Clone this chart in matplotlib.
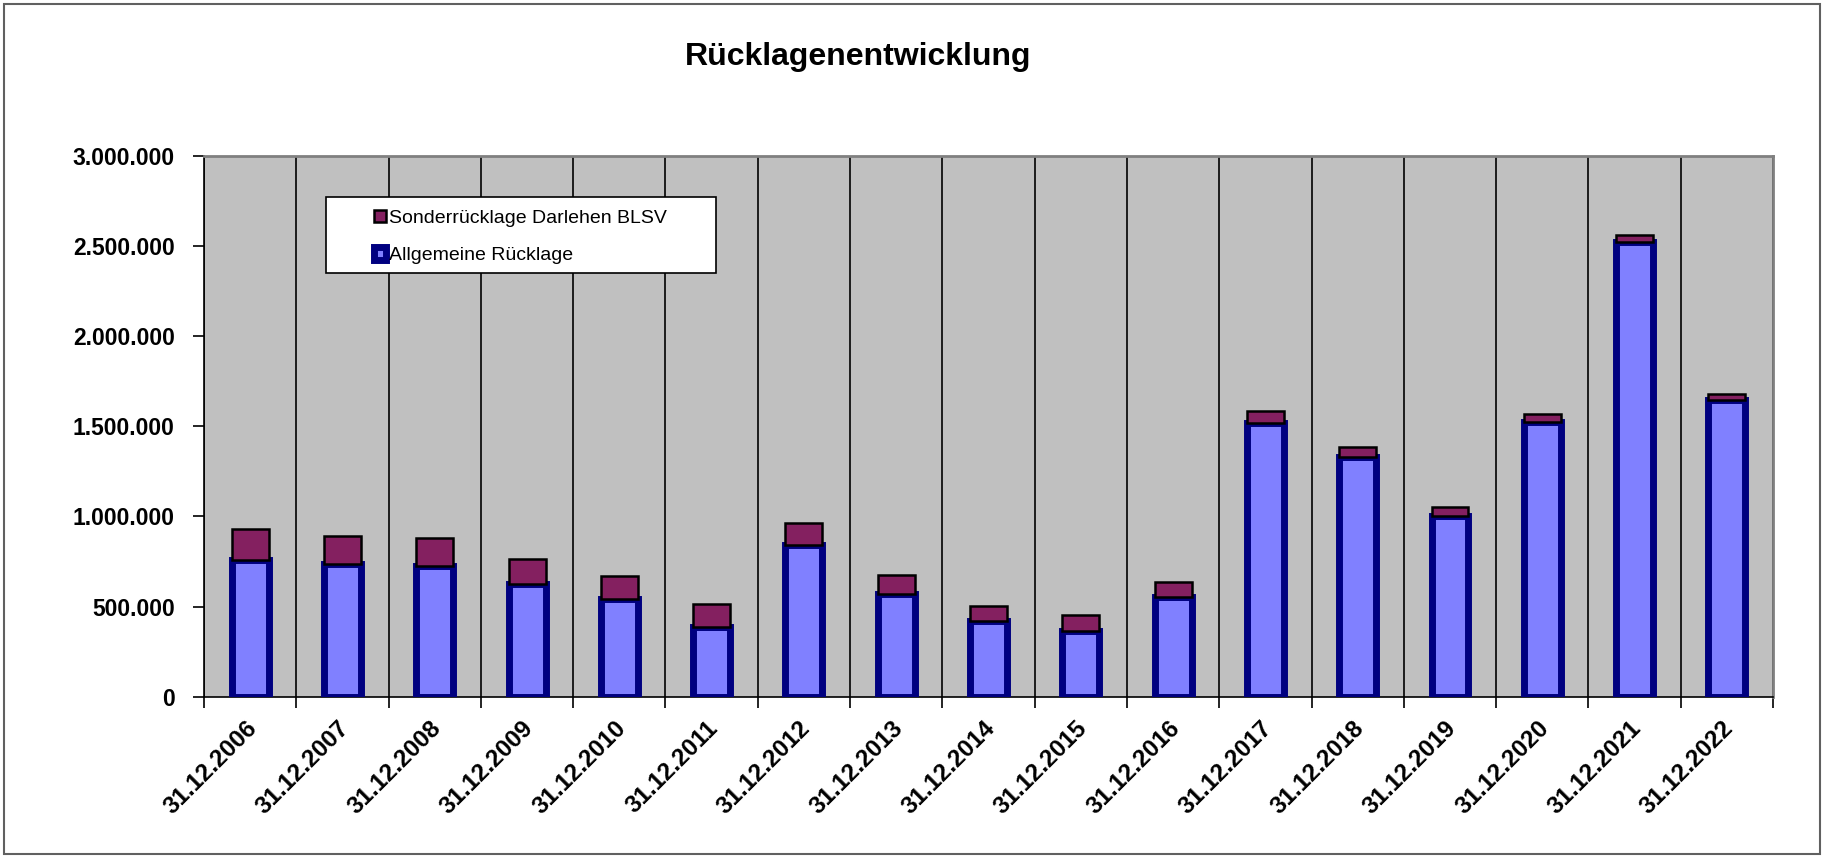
import numpy as np
import matplotlib
matplotlib.use("Agg")
import matplotlib.pyplot as plt
import matplotlib.transforms as mtransforms
from matplotlib.patches import Rectangle
from matplotlib.ticker import FuncFormatter, FixedLocator

plt.rcParams['font.family'] = ['Liberation Sans', 'DejaVu Sans']

stichtage = ["31.12.2006", "31.12.2007", "31.12.2008", "31.12.2009", "31.12.2010",
             "31.12.2011", "31.12.2012", "31.12.2013", "31.12.2014", "31.12.2015",
             "31.12.2016", "31.12.2017", "31.12.2018", "31.12.2019", "31.12.2020",
             "31.12.2021", "31.12.2022"]
allgemeine = [760000, 735000, 727000, 627000, 541000, 386000, 843000, 570000, 418000,
              366000, 552000, 1518000, 1332000, 1002000, 1525000, 2522000, 1644000]
sonder = [170000, 159000, 153000, 138000, 131000, 127000, 118000, 106000, 86000,
          90000, 83000, 69000, 55000, 50000, 45000, 42000, 38000]

fig = plt.figure(figsize=(18.25, 8.58), dpi=100)
ax = fig.add_axes([0.1118, 0.188, 0.8597, 0.6302])
ax.set_facecolor("#C0C0C0")

x = np.arange(len(stichtage))
b1 = ax.bar(x, allgemeine, width=0.40, color="#8080FF", edgecolor="#000080",
            linewidth=5, zorder=3)
b2 = ax.bar(x, sonder, width=0.40, bottom=allgemeine, color="#842060",
            edgecolor="black", linewidth=1.8, zorder=4)

ax.set_xlim(-0.5, len(stichtage) - 0.5)
ax.set_ylim(0, 3000000)
ax.set_yticks(np.arange(0, 3000001, 500000))
ax.yaxis.set_major_formatter(FuncFormatter(lambda v, p: f"{int(v):,}".replace(",", ".")))

# Kategoriegrenzen als Gitternetz
ax.xaxis.set_minor_locator(FixedLocator(np.arange(-0.5, len(stichtage), 1.0)))
ax.grid(True, axis="x", which="minor", color="black", linewidth=1.2, zorder=1)
ax.set_xticks(x)
ax.set_xticklabels(stichtage)
ax.tick_params(axis="x", which="major", length=0, pad=20)
ax.tick_params(axis="x", which="minor", length=8, width=1.2, direction="out")
ax.tick_params(axis="y", length=8, width=1.2, pad=13, labelsize=16.5)

for lbl in ax.get_xticklabels():
    lbl.set_rotation(45)
    lbl.set_rotation_mode("anchor")
    lbl.set_ha("right")
    lbl.set_va("center")
    lbl.set_fontsize(17.5)
    lbl.set_fontweight("bold")
    lbl.set_transform(lbl.get_transform() + mtransforms.ScaledTranslation(0.03, 0, fig.dpi_scale_trans))
for lbl in ax.get_yticklabels():
    lbl.set_fontweight("bold")

for s in ["left", "bottom"]:
    ax.spines[s].set_color("black")
    ax.spines[s].set_linewidth(1.2)
for s in ["top", "right"]:
    ax.spines[s].set_color("#808080")
    ax.spines[s].set_linewidth(2)

# Legende
ax.add_patch(Rectangle((0.0778, 0.783), 0.2485, 0.1417, transform=ax.transAxes,
                       facecolor="white", edgecolor="black", linewidth=1.2, zorder=5))
leg = ax.legend([b2, b1], ["Sonderrücklage Darlehen BLSV", "Allgemeine Rücklage"],
                loc="upper left", bbox_to_anchor=(0.102, 0.919), frameon=False,
                borderpad=0, handlelength=0.65, handleheight=0.65, handletextpad=0.15,
                labelspacing=1.04, prop={"size": 14})
leg.set_zorder(6)

fig.text(0.470, 0.933, "Rücklagenentwicklung", ha="center", va="center",
         fontsize=23, fontweight="bold")

fig.patches.append(Rectangle((4 / 1825, 4 / 858), 1816 / 1825, 850 / 858,
                             transform=fig.transFigure, fill=False,
                             edgecolor="#606060", linewidth=1.5))

fig.savefig("out.png", dpi=100, facecolor="white")
